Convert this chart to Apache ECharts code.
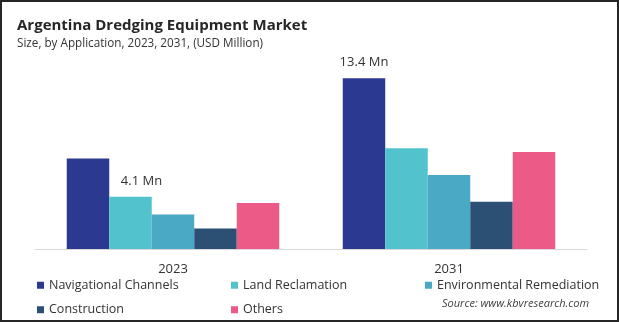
<!DOCTYPE html>
<html>
<head>
<meta charset="utf-8">
<script src="https://cdn.jsdelivr.net/npm/echarts@6/dist/echarts.min.js"></script>
<style>
  html, body { margin: 0; padding: 0; background: #fff; }
  #chart { width: 619px; height: 322px; box-sizing: border-box; border: 2px solid #262626; }
</style>
</head>
<body>
<div id="chart"></div>
<script>
// Market size by application (USD Million)
const years = ['2023', '2031'];
const seriesNames = ['Navigational Channels', 'Land Reclamation', 'Environmental Remediation', 'Construction', 'Others'];
const navigationalChannels = [7.1, 13.4];
const landReclamation = [4.1, 7.9];
const environmentalRemediation = [2.7, 5.8];
const construction = [1.6, 3.7];
const others = [3.6, 7.6];
const seriesColors = ['#2b3990', '#52c3cd', '#4aaac5', '#2c4f74', '#ec5a87'];

const values = [navigationalChannels, landReclamation, environmentalRemediation, construction, others];

// Only these bars carry a value label: [series index, category index, x offset]
const labelled = [[1, 0, 11], [0, 1, 0]];

const font = '"Open Sans", "Noto Sans", sans-serif';

const chart = echarts.init(document.getElementById('chart'), null, { renderer: 'canvas' });

const series = seriesNames.map((name, s) => ({
  name: name,
  type: 'bar',
  barGap: '0%',
  barCategoryGap: '23%',
  itemStyle: { color: seriesColors[s] },
  data: values[s].map((v, c) => {
    const hit = labelled.find(l => l[0] === s && l[1] === c);
    if (!hit) return v;
    return {
      value: v,
      label: {
        show: true,
        position: 'top',
        distance: 9,
        offset: [hit[2], 0],
        formatter: p => p.value + ' Mn',
        fontFamily: font,
        fontSize: 13,
        color: '#333'
      }
    };
  })
}));

chart.setOption({
  animation: false,
  title: [{
    text: 'Argentina Dredging Equipment Market',
    left: 10,
    top: 11,
    textStyle: { fontFamily: font, fontSize: 15, fontWeight: 'bold', color: '#262626' }
  }, {
    text: 'Size, by Application, 2023, 2031, (USD Million)',
    left: 10,
    top: 31,
    textStyle: { fontFamily: font, fontSize: 11.7, fontWeight: 'normal', color: '#333' }
  }],
  grid: { left: 33, right: 30, top: 43, bottom: 71, containLabel: false },
  xAxis: {
    type: 'category',
    data: years,
    axisLine: { lineStyle: { color: '#d9d9d9', width: 1 } },
    axisTick: { show: false },
    axisLabel: { margin: 14, fontFamily: font, fontSize: 13, color: '#333' }
  },
  yAxis: {
    type: 'value',
    min: 0,
    max: 16,
    show: false,
    splitLine: { show: false }
  },
  legend: {
    data: seriesNames,
    left: 30,
    top: 271,
    width: 590,
    itemWidth: 7,
    itemHeight: 7,
    itemGap: 10,
    icon: 'rect',
    textStyle: {
      fontFamily: font,
      fontSize: 12.5,
      color: '#333',
      width: 172,
      lineHeight: 14.5
    }
  },
  graphic: [{
    type: 'text',
    left: 440,
    top: 296,
    style: {
      text: 'Source: www.kbvresearch.com',
      font: 'italic 11px ' + font,
      fill: '#404040'
    }
  }],
  series: series
});
</script>
</body>
</html>
